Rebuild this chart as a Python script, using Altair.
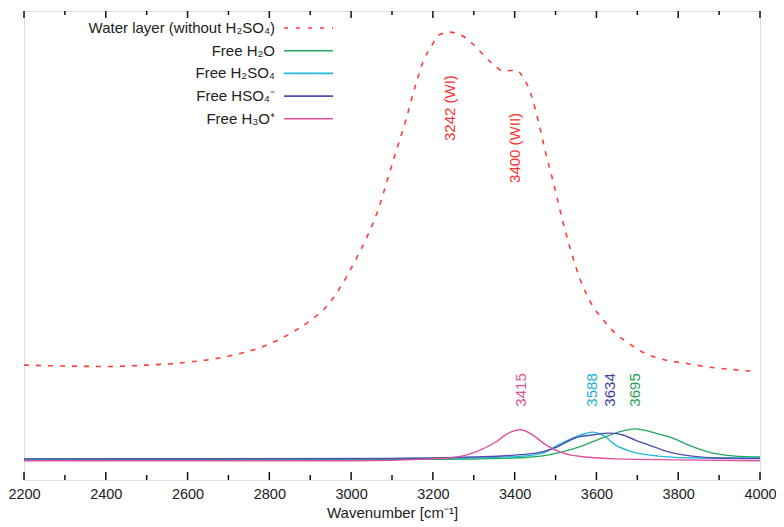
import altair as alt
import pandas as pd

# ---------------- data ----------------
water_wn = [2200, 2300, 2400, 2500, 2600, 2700, 2800, 2866, 2900,
            2944, 2963, 2983, 3012, 3041, 3066, 3085, 3105, 3134, 3159,
            3178, 3195, 3215, 3242, 3276, 3300, 3324, 3349, 3373, 3402,
            3422, 3439, 3451, 3463, 3476, 3493, 3505, 3517, 3537, 3561,
            3585, 3617, 3651, 3678, 3712, 3768, 3817, 3873, 3939, 3980]
water_int = [0.245, 0.243, 0.242, 0.245, 0.251, 0.264, 0.290, 0.320, 0.340,
             0.374, 0.397, 0.424, 0.471, 0.522, 0.576, 0.629, 0.687, 0.768, 0.846,
             0.896, 0.923, 0.949, 0.955, 0.945, 0.928, 0.906, 0.885, 0.872, 0.874,
             0.857, 0.825, 0.789, 0.746, 0.697, 0.640, 0.597, 0.554, 0.490, 0.426,
             0.380, 0.341, 0.309, 0.292, 0.273, 0.256, 0.249, 0.241, 0.235, 0.232]

h2o_wn = [2200, 3000, 3200, 3400, 3480, 3549, 3615, 3654, 3695, 3744, 3785, 3824, 3873, 3939, 4000]
h2o_int = [0.044, 0.044, 0.044, 0.047, 0.053, 0.068, 0.090, 0.102, 0.109, 0.100, 0.090, 0.075, 0.060, 0.051, 0.049]

h2so4_wn = [2200, 3000, 3300, 3420, 3470, 3507, 3549, 3570, 3590, 3615, 3646, 3688, 3751, 3850, 4000]
h2so4_int = [0.045, 0.045, 0.047, 0.051, 0.058, 0.075, 0.092, 0.098, 0.102, 0.096, 0.075, 0.060, 0.051, 0.047, 0.047]

hso4_wn = [2200, 3100, 3300, 3400, 3468, 3507, 3549, 3590, 3634, 3665, 3695, 3727, 3776, 3834, 3890, 4000]
hso4_int = [0.045, 0.046, 0.049, 0.053, 0.060, 0.072, 0.090, 0.096, 0.100, 0.096, 0.085, 0.075, 0.060, 0.051, 0.047, 0.046]

h3o_wn = [2200, 3000, 3200, 3270, 3305, 3354, 3385, 3415, 3444, 3476, 3517, 3573, 3650, 3800, 4000]
h3o_int = [0.041, 0.041, 0.045, 0.051, 0.060, 0.081, 0.100, 0.107, 0.096, 0.075, 0.058, 0.049, 0.045, 0.043, 0.041]

series_names = ["Water layer (without H₂SO₄)", "Free H₂O", "Free H₂SO₄", "Free HSO₄⁻", "Free H₃O⁺"]
series_colors = ["#ff3b3b", "#1fab5a", "#22b8dc", "#4b50ad", "#e2509c"]

peak_text = ["3242 (WI)", "3400 (WII)", "3415", "3588", "3634", "3695"]
peak_wn = [3242, 3400, 3415, 3588, 3634, 3695]
peak_y = [0.793, 0.708, 0.192, 0.192, 0.192, 0.192]
peak_color = ["#ff3030", "#ff3030", "#e2509c", "#22b0d8", "#3f43a0", "#1fa055"]

tick_values = list(range(2200, 4001, 100))
major_ticks = [t for t in tick_values if t % 200 == 0]
minor_ticks = [t for t in tick_values if t % 200 != 0]

# ---------------- build tables ----------------
water_df = pd.DataFrame({"wn": water_wn, "val": water_int, "series": series_names[0]})
solid_df = pd.concat([
    pd.DataFrame({"wn": h2o_wn, "val": h2o_int, "series": series_names[1]}),
    pd.DataFrame({"wn": h2so4_wn, "val": h2so4_int, "series": series_names[2]}),
    pd.DataFrame({"wn": hso4_wn, "val": hso4_int, "series": series_names[3]}),
    pd.DataFrame({"wn": h3o_wn, "val": h3o_int, "series": series_names[4]}),
], ignore_index=True)
peak_df = pd.DataFrame({"text": peak_text, "wn": peak_wn, "y": peak_y, "color": peak_color})
major_df = pd.DataFrame({"wn": major_ticks})
minor_df = pd.DataFrame({"wn": minor_ticks})
legend_df = pd.DataFrame({"series": series_names, "i": list(range(len(series_names)))})

W, H = 736, 469
FONT = "Liberation Sans"

x_scale = alt.Scale(domain=[2200, 4000], nice=False, zero=False)
y_scale = alt.Scale(domain=[0, 1], nice=False, zero=False)
color_scale = alt.Scale(domain=series_names, range=series_colors)

x_axis = alt.Axis(values=major_ticks, format="d", tickSize=0, domain=False, grid=False,
                  labelPadding=7, labelFontSize=14.5, labelColor="#222", labelFont=FONT,
                  title="Wavenumber [cm⁻¹]", titleFontSize=15, titleFontWeight="normal",
                  titleColor="#222", titleFont=FONT, titlePadding=5, labelFlush=False)

water = alt.Chart(water_df).mark_line(strokeWidth=1.6, strokeDash=[5, 7], interpolate="monotone",
                                      color=series_colors[0]).encode(
    x=alt.X("wn:Q", scale=x_scale, axis=x_axis),
    y=alt.Y("val:Q", scale=y_scale, axis=None),
)

solid = alt.Chart(solid_df).mark_line(strokeWidth=1.4, interpolate="monotone").encode(
    x=alt.X("wn:Q", scale=x_scale),
    y=alt.Y("val:Q", scale=y_scale),
    color=alt.Color("series:N", scale=color_scale, legend=None),
)

peaks = alt.Chart(peak_df).mark_text(angle=270, align="center", baseline="middle",
                                     fontSize=15, font=FONT).encode(
    x=alt.X("wn:Q", scale=x_scale),
    y=alt.Y("y:Q", scale=y_scale),
    text="text:N",
    color=alt.Color("color:N", scale=None),
)

tick_style = dict(color="#111", strokeWidth=1.5)
bot_major = alt.Chart(major_df).mark_rule(**tick_style).encode(
    x=alt.X("wn:Q", scale=x_scale), y=alt.value(H), y2=alt.value(H - 8))
bot_minor = alt.Chart(minor_df).mark_rule(**tick_style).encode(
    x=alt.X("wn:Q", scale=x_scale), y=alt.value(H), y2=alt.value(H - 5))
top_major = alt.Chart(major_df).mark_rule(**tick_style).encode(
    x=alt.X("wn:Q", scale=x_scale), y=alt.value(0), y2=alt.value(7))
top_minor = alt.Chart(minor_df).mark_rule(**tick_style).encode(
    x=alt.X("wn:Q", scale=x_scale), y=alt.value(0), y2=alt.value(4))

leg_text = alt.Chart(legend_df).transform_calculate(ly="17 + datum.i * 22.7").mark_text(
    align="right", baseline="middle", fontSize=15, font=FONT, color="#222").encode(
    x=alt.value(251),
    y=alt.Y("ly:Q", scale=None),
    text="series:N",
)
leg_lines = alt.Chart(legend_df).transform_calculate(ly="17 + datum.i * 22.7").mark_rule(
    strokeWidth=1.6).encode(
    x=alt.value(260), x2=alt.value(309),
    y=alt.Y("ly:Q", scale=None),
    color=alt.Color("series:N", scale=color_scale, legend=None),
    strokeDash=alt.StrokeDash("series:N", legend=None,
                              scale=alt.Scale(domain=series_names,
                                              range=[[4, 8], [1, 0], [1, 0], [1, 0], [1, 0]])),
)

chart = alt.layer(
    water, solid, peaks, bot_major, bot_minor, top_major, top_minor, leg_text, leg_lines
).properties(
    width=W, height=H,
    autosize=alt.AutoSizeParams(type="none"),
    padding={"left": 16, "top": 3, "right": 16, "bottom": 45},
).configure_view(
    stroke="#111", strokeWidth=1.6
).configure(
    font=FONT, background="white"
)

chart.save("out.html", embed_options={"renderer": "svg", "actions": False})
